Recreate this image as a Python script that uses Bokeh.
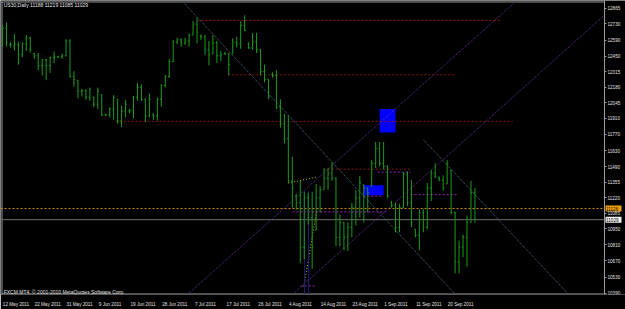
from bokeh.plotting import figure
from bokeh.models import FixedTicker, Label, ColumnDataSource, LinearAxis
from bokeh.embed import file_html
from bokeh.resources import INLINE
from bokeh.core.properties import value

# ---------------- data ----------------
bar_open = [12591, 12693, 12556, 12539, 12548, 12462, 12556, 12608, 12471, 12453,
            12368, 12419, 12368, 12436, 12445, 12445, 12453, 12582, 12273, 12240,
            12145, 12153, 12093, 12093, 12033, 12115, 11939, 11940, 11991, 12075,
            11888, 11973, 11973, 11982, 12093, 12179, 12076, 11931, 11939, 11931,
            12076, 12196, 12273, 12402, 12573, 12591, 12565, 12582, 12634, 12728,
            12625, 12616, 12505, 12471, 12565, 12453, 12471, 12470, 12470, 12573,
            12556, 12719, 12556, 12522, 12573, 12505, 12316, 12248, 12291, 12282,
            12008, 11862, 11733, 11365, 11236, 11176, 10790, 11219, 11047, 10940,
            11219, 11288, 11390, 11433, 11390, 10876, 11005, 10876, 10962, 11133,
            11219, 11330, 11305, 11320, 11519, 11648, 11519, 11493, 11176, 11150,
            10962, 11133, 11425, 11176, 10945, 10893, 11090, 10962, 11305, 11433,
            11390, 11373, 11340, 11455, 11090, 10662, 10790, 10876, 11005, 11262]
bar_high = [12719, 12742, 12571, 12642, 12573, 12571, 12634, 12619, 12477, 12477,
            12425, 12428, 12447, 12490, 12453, 12471, 12597, 12597, 12319, 12245,
            12162, 12162, 12177, 12099, 12177, 12119, 11948, 12005, 12111, 12076,
            12019, 12068, 11991, 12105, 12219, 12205, 12080, 12125, 11954, 12091,
            12205, 12285, 12428, 12591, 12610, 12605, 12610, 12648, 12754, 12785,
            12640, 12634, 12582, 12634, 12582, 12496, 12485, 12477, 12605, 12619,
            12754, 12805, 12571, 12651, 12653, 12510, 12376, 12250, 12310, 12328,
            12076, 11948, 11933, 11576, 11253, 11365, 11270, 11262, 11270, 11339,
            11322, 11476, 11476, 11528, 11395, 11076, 11010, 11005, 11176, 11288,
            11408, 11335, 11310, 11547, 11705, 11705, 11705, 11505, 11191, 11176,
            11168, 11442, 11448, 11373, 10947, 11119, 11125, 11348, 11462, 11519,
            11405, 11414, 11547, 11460, 11099, 10848, 10898, 11065, 11367, 11305]
bar_low = [12533, 12533, 12525, 12499, 12376, 12442, 12496, 12482, 12425, 12328,
           12282, 12242, 12305, 12391, 12434, 12425, 12447, 12262, 12185, 12082,
           12099, 12070, 12062, 12005, 11991, 11928, 11928, 11919, 11899, 11862,
           11834, 11919, 11954, 11913, 12062, 12062, 11877, 11919, 11896, 11890,
           12010, 12177, 12262, 12400, 12554, 12533, 12548, 12533, 12634, 12562,
           12591, 12462, 12370, 12468, 12391, 12405, 12462, 12285, 12468, 12525,
           12514, 12668, 12514, 12505, 12477, 12282, 12222, 12076, 12262, 11991,
           11828, 11691, 11348, 11133, 11116, 10653, 10687, 10987, 10602, 10936,
           11090, 11288, 11288, 11367, 10799, 10799, 10765, 10756, 10876, 10979,
           11047, 11005, 11090, 11319, 11476, 11491, 11462, 11219, 11133, 10919,
           10919, 11133, 11148, 10962, 10876, 10762, 10919, 10945, 11191, 11390,
           11362, 11282, 11339, 11076, 10562, 10562, 10705, 10619, 11005, 11005]
bar_close = [12693, 12573, 12548, 12556, 12462, 12556, 12608, 12505, 12453, 12368,
             12419, 12368, 12436, 12445, 12441, 12453, 12582, 12273, 12248, 12145,
             12153, 12093, 12162, 12033, 12145, 11939, 11940, 11991, 12093, 11888,
             11973, 12033, 11982, 12093, 12179, 12076, 11931, 12076, 11931, 12076,
             12196, 12273, 12402, 12573, 12591, 12565, 12582, 12634, 12728, 12659,
             12616, 12505, 12462, 12565, 12453, 12462, 12470, 12376, 12573, 12556,
             12719, 12676, 12522, 12573, 12505, 12316, 12248, 12102, 12282, 12008,
             11862, 11733, 11365, 11305, 11176, 10790, 11219, 11047, 10790, 11219,
             11288, 11390, 11433, 11390, 10876, 11005, 10876, 10962, 11133, 11219,
             11348, 11305, 11262, 11519, 11648, 11519, 11493, 11236, 11150, 10962,
             11133, 11425, 11176, 11005, 10893, 11090, 10962, 11305, 11433, 11408,
             11373, 11305, 11519, 11090, 10662, 10790, 10876, 11005, 11262, 11030]
bar_index = list(range(len(bar_open)))

price_ticks = [12865, 12730, 12590, 12450, 12315, 12180, 12045, 11910, 11770, 11630,
               11490, 11355, 11220, 11085, 10950, 10810, 10670, 10530, 10390]
date_ticks = [0, 8, 16, 24, 32, 40, 48, 56, 64, 72, 80, 88, 96, 104, 112]
date_labels = ["12 May 2011", "22 May 2011", "31 May 2011", "9 Jun 2011", "19 Jun 2011",
               "28 Jun 2011", "7 Jul 2011", "17 Jul 2011", "26 Jul 2011", "4 Aug 2011",
               "14 Aug 2011", "23 Aug 2011", "1 Sep 2011", "11 Sep 2011", "20 Sep 2011"]

# trend lines (bar index, price)
channel_a_x0 = [45.6, 106.0]
channel_a_p0 = [12916, 11725]
channel_a_x1 = [114.1, 142.6]
channel_a_p1 = [10379, 10379]
channel_b_x0 = [46.6, 73.0]
channel_b_p0 = [10379, 10379]
channel_b_x1 = [129.0, 151.6]
channel_b_p1 = [12916, 12805]
red_level_price = [12760, 12288, 11883, 11468]
red_level_start = [49.1, 56.9, 28.5, 80.9]
red_level_end = [125.4, 114.1, 128.5, 102.8]
mag_level_price = [11442, 11247, 11096, 11233, 10453]
mag_level_start = [94.5, 102.8, 73.0, 90.9, 75.1]
mag_level_end = [102.8, 114.6, 96.5, 96.0, 78.6]
order_price = 11126
bid_price = 11029
box_left = [95.0, 90.9]
box_right = [99.0, 96.0]
box_top = [11991, 11328]
box_bottom = [11787, 11242]
fib_x0 = [72.0, 75.9]
fib_p0 = [11348, 10447]
fib_x1 = [79.1, 79.1]
fib_p1 = [11399, 11099]
vline_x = [76.1, 77.1]
vline_top = [11280, 11280]
vline_bottom = [10379, 10379]

title_text = "US30,Daily  11188 11219 11085 11029"
copyright_text = "FXCM MT4, \u00a9 2001-2010 MetaQuotes Software Corp."

# ---------------- layout constants (pixels -> data) ----------------
FONT = "Liberation Sans"
PX_PER_BAR = 3.97
PRICE_PER_PX = 8.573
X0 = -2 / PX_PER_BAR                 # bar 0 sits 2 px from the left edge
X_END = X0 + 625 / PX_PER_BAR
X_SCALE = X0 + 604 / PX_PER_BAR      # where the price scale starts
Y_TOP = 12933.6
Y_BOT = Y_TOP - 298 * PRICE_PER_PX

p = figure(width=625, height=309, output_backend="svg", toolbar_location=None,
           x_range=(X0, X_END), y_range=(Y_BOT, Y_TOP),
           min_border=0, min_border_bottom=11, y_axis_location=None)
p.background_fill_color = "#000000"
p.border_fill_color = "#000000"
p.outline_line_color = None
p.grid.visible = False

# date axis (labels start at their bar, MT4 style)
label_pos = [t + len(s) * 2.45 / 2 / PX_PER_BAR for t, s in zip(date_ticks, date_labels)]
xa = p.xaxis[0]
xa.ticker = FixedTicker(ticks=label_pos)
xa.major_label_overrides = {t: s for t, s in zip(label_pos, date_labels)}
xa.axis_line_color = None
xa.major_tick_line_color = None
xa.minor_tick_line_color = None
xa.major_label_standoff = 1
xa.major_label_text_color = "#e0e0e0"
xa.major_label_text_font = FONT
xa.major_label_text_font_size = "4.6px"

# price scale pinned inside the canvas at the chart's right edge
ya = LinearAxis(ticker=FixedTicker(ticks=price_ticks), fixed_location=X_SCALE,
                axis_line_color="#9a9a9a", major_tick_line_color="#9a9a9a",
                major_tick_out=2, major_tick_in=0, minor_tick_line_color=None,
                major_label_standoff=1, major_label_text_color="#e0e0e0",
                major_label_text_font=FONT, major_label_text_font_size="4.6px")
p.add_layout(ya, "right")

# chart frame (top, left, bottom borders)
border_x0 = [X0 + 0.5 / PX_PER_BAR, X0 + 1.5 / PX_PER_BAR, X0 + 0.5 / PX_PER_BAR]
border_x1 = [X_SCALE, X0 + 1.5 / PX_PER_BAR, X_SCALE]
border_y0 = [Y_TOP - 1.5 * PRICE_PER_PX, Y_TOP - 1.5 * PRICE_PER_PX, Y_BOT + 0.5 * PRICE_PER_PX]
border_y1 = [Y_TOP - 1.5 * PRICE_PER_PX, Y_BOT, Y_BOT + 0.5 * PRICE_PER_PX]
p.segment(x0=border_x0, y0=border_y0, x1=border_x1, y1=border_y1,
          line_color="#9a9a9a", line_width=1)

# boxes
p.quad(left=box_left, right=box_right, top=box_top, bottom=box_bottom,
       fill_color="#0000ff", line_color=None)

# horizontal levels
p.segment(x0=red_level_start, y0=red_level_price, x1=red_level_end, y1=red_level_price,
          line_color="#8e1414", line_width=1, line_dash="2 2")
p.segment(x0=mag_level_start, y0=mag_level_price, x1=mag_level_end, y1=mag_level_price,
          line_color="#9a20c0", line_width=1, line_dash="2 2")
p.segment(x0=[X0], y0=[order_price], x1=[X_SCALE], y1=[order_price],
          line_color="#d88a00", line_width=1, line_dash="2 2")
p.segment(x0=[X0], y0=[bid_price], x1=[X_SCALE], y1=[bid_price],
          line_color="#6e6e6e", line_width=1)

# channel lines
p.segment(x0=channel_a_x0, y0=channel_a_p0, x1=channel_a_x1, y1=channel_a_p1,
          line_color="#4a6d8c", line_width=1, line_dash="1 1")
p.segment(x0=channel_b_x0, y0=channel_b_p0, x1=channel_b_x1, y1=channel_b_p1,
          line_color="#62309a", line_width=1, line_dash="1 1")
p.segment(x0=fib_x0, y0=fib_p0, x1=fib_x1, y1=fib_p1,
          line_color="#c8c800", line_width=1, line_dash="1 2")
p.segment(x0=vline_x, y0=vline_bottom, x1=vline_x, y1=vline_top,
          line_color="#202078", line_width=1)

# OHLC bars
src = ColumnDataSource(dict(
    x=bar_index, o=bar_open, h=bar_high, l=bar_low, c=bar_close,
    xl=[i - 0.3 for i in bar_index], xr=[i + 0.3 for i in bar_index]))
bar_color = "#1c9c1c"
p.segment(x0="x", y0="l", x1="x", y1="h", source=src, line_color=bar_color, line_width=1)
p.segment(x0="xl", y0="o", x1="x", y1="o", source=src, line_color=bar_color, line_width=1)
p.segment(x0="x", y0="c", x1="xr", y1="c", source=src, line_color=bar_color, line_width=1)

# texts
p.add_layout(Label(x=0.3, y=Y_TOP - 5 * PRICE_PER_PX, text=title_text, text_color="#e0e0e0",
                   text_font=FONT, text_font_size="5px", text_baseline="middle"))
p.add_layout(Label(x=0.3, y=Y_TOP - 295 * PRICE_PER_PX, text=copyright_text,
                   text_color="#e0e0e0", text_font=FONT, text_font_size="5px",
                   text_baseline="middle"))

# price boxes on the price scale
tag_price = [order_price, bid_price]
tag_text = [str(order_price), str(bid_price)]
tag_left = X_SCALE + 1 / PX_PER_BAR
tag_right = X_SCALE + 17 / PX_PER_BAR
p.quad(left=tag_left, right=tag_right,
       top=[v + 3 * PRICE_PER_PX for v in tag_price],
       bottom=[v - 3 * PRICE_PER_PX for v in tag_price],
       fill_color=["#f0a000", "#f2f2f2"], line_color=None)
p.text(x=tag_left + 0.6 / PX_PER_BAR, y=tag_price, text=tag_text, text_color="#000000",
       text_font=value(FONT), text_font_size="4.6px", text_baseline="middle",
       text_align="left")

open("out.html", "w").write(file_html(p, INLINE))
